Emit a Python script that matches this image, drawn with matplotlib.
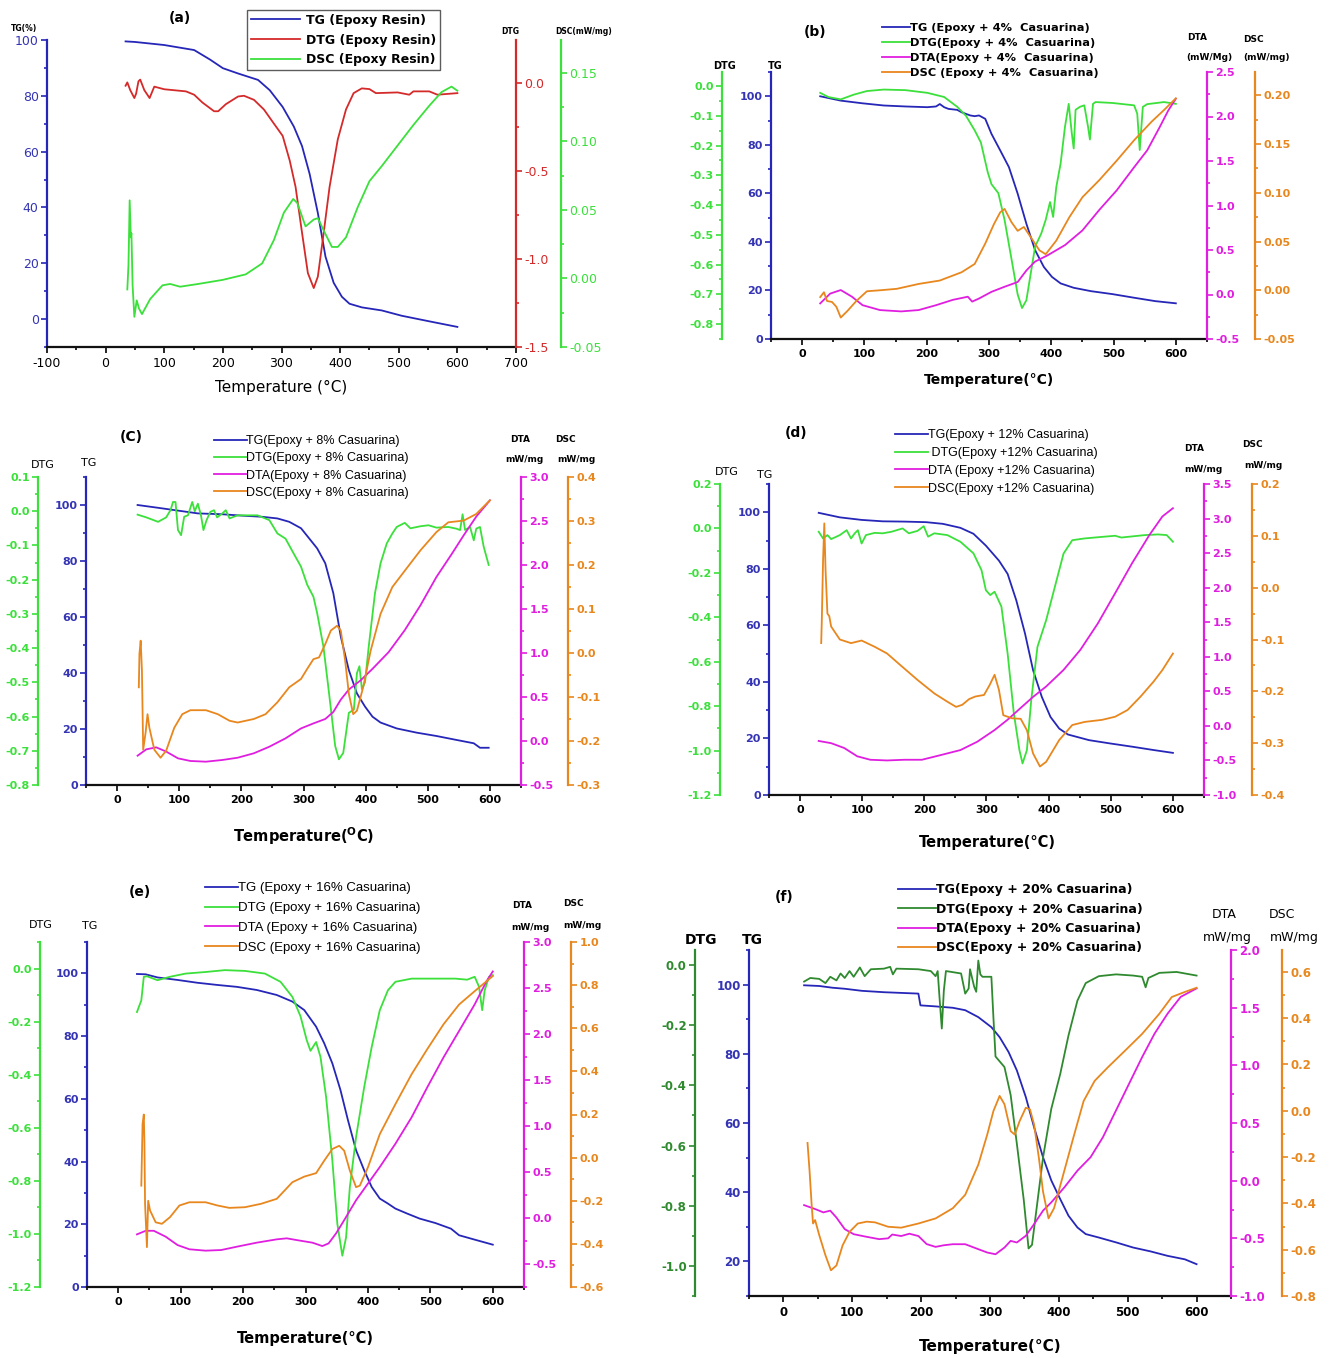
import matplotlib
matplotlib.use('Agg')
import matplotlib.pyplot as plt
from matplotlib.ticker import MultipleLocator, FuncFormatter

plt.rcParams['axes.unicode_minus'] = False
plt.rcParams['font.family'] = ['DejaVu Sans']

# ---------------- data ----------------
# (a) epoxy resin
a_tg_t = [34, 50, 100, 151, 178, 200, 226, 260, 280, 302, 321, 335, 348, 362, 375, 389, 403, 416, 437, 471, 505, 552, 600]
a_tg = [99.5, 99.3, 98.2, 96.4, 93, 89.9, 88, 85.7, 82, 76, 69, 62, 52, 38, 22.4, 13, 8, 5.5, 4.2, 3.1, 1.2, -0.8, -2.8]
a_dtg_t = [34, 37, 42, 49, 52, 56, 59, 66, 75, 83, 100, 137, 151, 165, 185, 192, 205, 226, 236, 253, 270, 287, 302, 314,
           324, 335, 345, 355, 362, 372, 382, 396, 410, 423, 437, 450, 461, 498, 518, 525, 552, 566, 600]
a_dtg = [-0.015, 0.004, -0.04, -0.085, -0.06, 0.01, 0.02, -0.04, -0.085, -0.02, -0.035, -0.047, -0.066, -0.11, -0.16,
         -0.16, -0.12, -0.076, -0.072, -0.095, -0.15, -0.23, -0.30, -0.44, -0.59, -0.85, -1.08, -1.165, -1.10, -0.85,
         -0.59, -0.32, -0.15, -0.057, -0.03, -0.034, -0.057, -0.053, -0.066, -0.047, -0.047, -0.066, -0.057]
a_dsc_t = [37, 39, 41, 43, 44, 46, 49, 53, 57, 62, 76, 97, 110, 127, 158, 200, 239, 267, 287, 304, 320, 327, 341, 355,
           362, 372, 386, 396, 410, 430, 450, 471, 498, 525, 552, 573, 590, 600]
a_dsc = [-0.008, 0.01, 0.057, 0.03, 0.033, -0.005, -0.028, -0.016, -0.022, -0.026, -0.015, -0.005, -0.004, -0.006,
         -0.004, -0.001, 0.003, 0.011, 0.028, 0.048, 0.058, 0.055, 0.038, 0.043, 0.044, 0.035, 0.023, 0.023, 0.030,
         0.052, 0.071, 0.082, 0.097, 0.112, 0.126, 0.136, 0.140, 0.137]

# (b) epoxy + 4% casuarina
b_tg_t = [29, 62, 97, 131, 166, 201, 215, 221, 228, 235, 249, 256, 270, 277, 284, 294, 304, 318, 332, 346, 360, 374, 388,
          401, 415, 436, 464, 498, 533, 567, 600]
b_tg = [100, 98.2, 97.1, 96.2, 95.8, 95.5, 95.8, 96.8, 95.5, 94.8, 94.4, 93.4, 92.1, 91.8, 92.1, 90.7, 84.5, 77.7, 70.8,
        59.9, 47.5, 36.6, 29.7, 25.6, 22.9, 21.1, 19.7, 18.5, 17, 15.6, 14.7]
b_dtg_t = [29, 42, 62, 83, 104, 131, 166, 201, 228, 249, 263, 277, 287, 298, 304, 315, 325, 336, 346, 353, 360, 367, 374,
           384, 391, 398, 403, 408, 415, 422, 428, 433, 436, 439, 446, 453, 459, 462, 467, 471, 498, 533, 538, 542, 547,
           554, 581, 600]
b_dtg = [-0.023, -0.037, -0.045, -0.029, -0.017, -0.012, -0.014, -0.023, -0.037, -0.07, -0.10, -0.149, -0.19, -0.29,
         -0.33, -0.36, -0.45, -0.58, -0.70, -0.746, -0.72, -0.63, -0.54, -0.495, -0.45, -0.39, -0.44, -0.34, -0.26,
         -0.137, -0.06, -0.16, -0.21, -0.08, -0.07, -0.065, -0.137, -0.18, -0.06, -0.054, -0.057, -0.065, -0.093,
         -0.215, -0.07, -0.061, -0.054, -0.06]
b_dta_t = [29, 45, 62, 80, 97, 125, 159, 187, 215, 242, 266, 273, 284, 304, 325, 346, 360, 374, 394, 422, 450, 477, 505,
           533, 554, 574, 588, 600]
b_dta = [-0.1, 0.01, 0.05, -0.025, -0.12, -0.175, -0.19, -0.175, -0.12, -0.06, -0.025, -0.08, -0.045, 0.03, 0.087, 0.14,
         0.27, 0.37, 0.44, 0.555, 0.72, 0.95, 1.17, 1.43, 1.62, 1.88, 2.07, 2.2]
b_dsc_t = [29, 35, 40, 48, 55, 62, 73, 87, 104, 125, 152, 187, 221, 256, 277, 294, 308, 318, 325, 336, 346, 356, 367, 381,
           391, 408, 429, 450, 477, 505, 533, 561, 581, 600]
b_dsc = [-0.007, -0.002, -0.011, -0.012, -0.017, -0.028, -0.021, -0.011, -0.001, 0.0, 0.0015, 0.0065, 0.010, 0.0185,
         0.027, 0.048, 0.068, 0.080, 0.0835, 0.070, 0.061, 0.065, 0.0545, 0.041, 0.037, 0.051, 0.075, 0.0955, 0.113,
         0.133, 0.154, 0.173, 0.185, 0.197]

# (c) epoxy + 8% casuarina
c_tg_t = [33, 66, 98, 130, 169, 201, 233, 258, 277, 296, 309, 322, 335, 348, 360, 373, 386, 399, 411, 424, 450, 482, 514,
          546, 574, 584, 598]
c_tg = [100, 99, 98, 97, 96.7, 96.2, 95.8, 95.2, 94, 91.7, 88.1, 84.5, 79.2, 68.5, 53, 41, 32.7, 28, 24.4, 22.3, 20.2,
        18.7, 17.5, 16.1, 14.9, 13.3, 13.3]
c_dtg_t = [33, 47, 66, 79, 86, 90, 94, 98, 103, 108, 114, 121, 125, 130, 135, 139, 144, 150, 156, 161, 169, 175, 181, 194,
           226, 245, 258, 271, 284, 296, 306, 316, 322, 332, 341, 351, 357, 364, 373, 381, 386, 390, 394, 399, 405, 415,
           424, 434, 443, 450, 463, 472, 488, 501, 514, 533, 546, 552, 556, 560, 568, 574, 578, 584, 590, 598]
c_dtg = [-0.01, -0.018, -0.031, -0.018, 0.003, 0.027, 0.027, -0.055, -0.07, -0.016, -0.012, 0.027, 0.0, 0.022, -0.012,
         -0.055, -0.026, -0.002, 0.003, -0.018, -0.007, 0.003, -0.021, -0.012, -0.012, -0.026, -0.065, -0.08, -0.123,
         -0.162, -0.215, -0.25, -0.298, -0.395, -0.53, -0.686, -0.725, -0.706, -0.589, -0.58, -0.473, -0.453, -0.52,
         -0.50, -0.395, -0.24, -0.152, -0.094, -0.065, -0.046, -0.034, -0.05, -0.044, -0.041, -0.048, -0.046, -0.051,
         -0.055, -0.009, -0.055, -0.046, -0.085, -0.051, -0.046, -0.104, -0.157]
c_dta_t = [33, 47, 63, 79, 98, 118, 143, 169, 194, 220, 245, 271, 296, 316, 335, 348, 360, 373, 392, 411, 437, 463, 488,
           514, 539, 558, 578, 600]
c_dta = [-0.167, -0.095, -0.072, -0.12, -0.197, -0.227, -0.235, -0.216, -0.19, -0.14, -0.065, 0.03, 0.143, 0.2, 0.25,
         0.33, 0.47, 0.585, 0.69, 0.82, 1.01, 1.26, 1.54, 1.865, 2.13, 2.34, 2.55, 2.735]
c_dsc_t = [35, 36, 38, 40, 42, 46, 49, 52, 60, 70, 79, 92, 105, 118, 143, 162, 181, 194, 220, 239, 258, 277, 296, 306,
           316, 325, 335, 344, 354, 360, 367, 373, 380, 386, 396, 408, 424, 443, 463, 488, 514, 533, 558, 578, 600]
c_dsc = [-0.078, -0.002, 0.028, -0.04, -0.22, -0.18, -0.139, -0.17, -0.22, -0.238, -0.222, -0.17, -0.139, -0.13, -0.13,
         -0.139, -0.154, -0.158, -0.15, -0.139, -0.112, -0.078, -0.059, -0.036, -0.014, -0.010, 0.020, 0.051, 0.062,
         0.051, -0.017, -0.093, -0.139, -0.131, -0.078, 0.005, 0.089, 0.15, 0.187, 0.233, 0.275, 0.297, 0.301, 0.316,
         0.347]

# (d) epoxy + 12% casuarina
d_tg_t = [30, 64, 99, 133, 168, 203, 230, 258, 279, 299, 320, 334, 348, 362, 375, 389, 403, 417, 431, 465, 500, 534, 569,
          600]
d_tg = [99.8, 98.2, 97.3, 96.8, 96.7, 96.5, 95.9, 94.5, 92.4, 88.2, 82.9, 78.2, 68.8, 57.1, 44.1, 34.7, 27.6, 23.5, 21.4,
        19.4, 18.2, 17.1, 15.9, 14.9]
d_dtg_t = [30, 37, 44, 50, 64, 75, 82, 88, 93, 99, 106, 120, 133, 147, 165, 175, 189, 199, 206, 216, 237, 258, 279, 292,
           299, 306, 313, 324, 334, 344, 353, 358, 365, 372, 382, 396, 410, 424, 438, 458, 486, 507, 517, 527, 555, 576,
           590, 600]
d_dtg = [-0.015, -0.045, -0.03, -0.048, -0.03, -0.008, -0.045, -0.022, -0.008, -0.068, -0.03, -0.02, -0.022, -0.015, 0.0,
         -0.022, -0.011, 0.01, -0.037, -0.022, -0.03, -0.06, -0.112, -0.188, -0.278, -0.30, -0.285, -0.352, -0.563,
         -0.833, -0.998, -1.058, -0.998, -0.773, -0.533, -0.413, -0.263, -0.113, -0.053, -0.045, -0.038, -0.033, -0.041,
         -0.038, -0.03, -0.027, -0.03, -0.06]
d_dta_t = [30, 50, 71, 92, 113, 140, 168, 196, 223, 258, 285, 313, 334, 355, 375, 396, 424, 451, 479, 507, 534, 562, 583,
           600]
d_dta = [-0.218, -0.25, -0.32, -0.44, -0.49, -0.50, -0.49, -0.49, -0.43, -0.35, -0.23, -0.06, 0.09, 0.26, 0.42, 0.57,
         0.81, 1.10, 1.48, 1.92, 2.35, 2.76, 3.03, 3.15]
d_dsc_t = [34, 35, 37, 39, 41, 44, 47, 50, 64, 82, 99, 120, 140, 161, 189, 216, 237, 251, 261, 272, 282, 296, 305, 313,
           320, 327, 341, 355, 365, 375, 386, 396, 417, 438, 458, 486, 507, 527, 548, 569, 583, 600]
d_dsc = [-0.107, -0.062, 0.053, 0.124, 0.034, -0.05, -0.055, -0.075, -0.1, -0.107, -0.102, -0.114, -0.127, -0.149,
         -0.178, -0.204, -0.22, -0.23, -0.226, -0.215, -0.21, -0.207, -0.188, -0.168, -0.197, -0.246, -0.252, -0.253,
         -0.275, -0.32, -0.345, -0.336, -0.294, -0.265, -0.259, -0.255, -0.249, -0.236, -0.21, -0.181, -0.159, -0.127]

# (e) epoxy + 16% casuarina
e_tg_t = [30, 44, 63, 95, 127, 159, 190, 222, 254, 279, 298, 317, 330, 343, 356, 368, 381, 394, 406, 419, 432, 444, 463,
          483, 508, 533, 546, 571, 600]
e_tg = [99.8, 99.7, 98.7, 97.9, 97, 96.3, 95.7, 94.7, 93.1, 91, 88.3, 83, 77.7, 71.3, 62.8, 53.2, 43.6, 37.2, 31.9, 28.2,
        26.6, 25, 23.4, 21.8, 20.4, 18.6, 16.5, 15.1, 13.5]
e_dtg_t = [30, 37, 41, 46, 63, 83, 108, 140, 171, 203, 235, 260, 279, 292, 302, 308, 317, 324, 333, 343, 351, 359, 365,
           371, 381, 394, 406, 419, 432, 444, 470, 508, 540, 559, 571, 578, 583, 587, 594, 600]
e_dtg = [-0.164, -0.12, -0.031, -0.029, -0.044, -0.031, -0.019, -0.013, -0.006, -0.009, -0.019, -0.05, -0.107, -0.18,
         -0.27, -0.31, -0.277, -0.333, -0.484, -0.723, -0.962, -1.082, -1.013, -0.824, -0.635, -0.447, -0.296, -0.157,
         -0.082, -0.05, -0.038, -0.038, -0.038, -0.042, -0.031, -0.069, -0.157, -0.082, -0.031, -0.025]
e_dta_t = [30, 44, 57, 76, 95, 114, 140, 165, 190, 222, 254, 270, 286, 311, 327, 337, 349, 362, 381, 400, 419, 444, 470,
           495, 521, 546, 571, 590, 600]
e_dta = [-0.178, -0.139, -0.139, -0.203, -0.294, -0.34, -0.355, -0.348, -0.312, -0.268, -0.232, -0.221, -0.24, -0.268,
         -0.305, -0.276, -0.167, -0.023, 0.193, 0.374, 0.554, 0.807, 1.095, 1.42, 1.745, 2.033, 2.322, 2.574, 2.68]
e_dsc_t = [37, 39, 41, 42, 43, 46, 48, 51, 60, 70, 83, 98, 114, 140, 159, 178, 203, 229, 254, 279, 298, 317, 330, 343,
           354, 362, 371, 381, 387, 400, 419, 444, 470, 495, 521, 546, 571, 600]
e_dsc = [-0.13, 0.156, 0.2, 0.063, -0.214, -0.415, -0.2, -0.245, -0.3, -0.307, -0.276, -0.222, -0.207, -0.207, -0.222,
         -0.233, -0.23, -0.214, -0.191, -0.114, -0.088, -0.072, -0.014, 0.04, 0.055, 0.032, -0.06, -0.137, -0.13,
         -0.045, 0.109, 0.248, 0.387, 0.503, 0.618, 0.71, 0.772, 0.842]

# (f) epoxy + 20% casuarina
f_tg_t = [30, 52, 71, 89, 114, 146, 171, 196, 199, 221, 246, 264, 283, 302, 314, 327, 339, 352, 364, 377, 389, 402, 414,
          427, 439, 458, 483, 508, 533, 558, 583, 600]
f_tg = [99.8, 99.6, 99.1, 98.8, 98.2, 97.8, 97.6, 97.4, 94, 93.7, 93.3, 92.6, 90.6, 87.7, 84.8, 80.5, 75.2, 67.5, 58.8,
        50.1, 43.4, 38, 33.2, 29.8, 27.9, 26.9, 25.5, 24, 22.9, 21.6, 20.6, 19.2]
f_dtg_t = [30, 39, 52, 61, 68, 77, 83, 89, 96, 102, 111, 118, 127, 146, 155, 159, 164, 196, 214, 221, 224, 227, 230, 233,
           236, 258, 264, 269, 271, 277, 280, 283, 286, 289, 302, 305, 308, 321, 330, 339, 349, 356, 361, 368, 377, 389,
           402, 414, 427, 439, 458, 483, 508, 521, 526, 530, 546, 571, 600]
f_dtg = [-0.055, -0.043, -0.046, -0.06, -0.039, -0.051, -0.028, -0.043, -0.02, -0.039, -0.008, -0.037, -0.014, -0.012,
         -0.006, -0.031, -0.012, -0.014, -0.02, -0.037, -0.02, -0.118, -0.211, -0.084, -0.02, -0.028, -0.095, -0.078,
         -0.014, -0.072, -0.089, 0.015, -0.031, -0.039, -0.039, -0.176, -0.304, -0.339, -0.432, -0.594, -0.78, -0.942,
         -0.93, -0.803, -0.64, -0.478, -0.362, -0.234, -0.118, -0.06, -0.037, -0.031, -0.035, -0.039, -0.074, -0.043,
         -0.026, -0.023, -0.035]
f_dta_t = [30, 46, 58, 68, 77, 89, 102, 121, 139, 152, 158, 171, 183, 196, 208, 221, 233, 246, 264, 283, 296, 308, 321,
           330, 339, 352, 364, 377, 389, 408, 427, 446, 464, 483, 502, 521, 539, 558, 577, 600]
f_dta = [-0.212, -0.246, -0.275, -0.26, -0.32, -0.42, -0.464, -0.487, -0.507, -0.50, -0.467, -0.48, -0.46, -0.48, -0.55,
         -0.574, -0.56, -0.551, -0.551, -0.594, -0.623, -0.638, -0.58, -0.522, -0.536, -0.478, -0.377, -0.26, -0.188,
         -0.058, 0.087, 0.203, 0.377, 0.609, 0.841, 1.072, 1.275, 1.449, 1.594, 1.667]
f_dsc_t = [35, 38, 41, 43, 46, 52, 61, 69, 77, 86, 96, 108, 121, 133, 152, 171, 196, 221, 246, 264, 283, 296, 305, 314,
           321, 330, 336, 343, 352, 358, 364, 371, 377, 385, 393, 405, 421, 436, 452, 471, 496, 521, 546, 564, 583, 600]
f_dsc = [-0.139, -0.262, -0.407, -0.487, -0.472, -0.537, -0.624, -0.689, -0.668, -0.581, -0.523, -0.487, -0.479, -0.482,
         -0.501, -0.505, -0.487, -0.465, -0.421, -0.363, -0.233, -0.103, -0.001, 0.064, 0.028, -0.088, -0.103, -0.045,
         0.013, 0.006, -0.059, -0.204, -0.349, -0.465, -0.421, -0.291, -0.117, 0.042, 0.129, 0.187, 0.259, 0.332,
         0.419, 0.491, 0.513, 0.531]

# ---------------- styling ----------------
BLUE = '#2626b8'
RED = '#d42a2a'
LIME = '#3be03b'
DKGREEN = '#2f8a2f'
MAGENTA = '#e01ee0'
ORANGE = '#e8871e'

W, H = 1334, 1358
fig = plt.figure(figsize=(W / 100, H / 100), dpi=100)


def box(l, r, t, b):
    return [l / W, 1 - b / H, (r - l) / W, (b - t) / H]


def fmt(d):
    def f(v, pos):
        s = f'{v:.{d}f}'
        if float(s) == 0:
            s = s.lstrip('-')
        return s
    return FuncFormatter(f)


def style_y(ax, side, color, lim, major, minor, dec, lsize, lcolor=None):
    ax.set_ylim(*lim)
    ax.yaxis.set_major_locator(MultipleLocator(major))
    ax.yaxis.set_minor_locator(MultipleLocator(minor))
    ax.yaxis.set_major_formatter(fmt(dec))
    ax.spines[side].set_color(color)
    ax.spines[side].set_linewidth(1.6)
    ax.tick_params(axis='y', which='both', direction='out', color=color,
                   labelcolor=lcolor or color, width=1.2, labelsize=lsize, pad=2)
    ax.tick_params(axis='y', which='major', length=4)
    ax.tick_params(axis='y', which='minor', length=2.5)


def extra_axis(host, side, offset_px, width_px):
    t = host.twinx()
    for s in t.spines.values():
        s.set_visible(False)
    sp = t.spines[side]
    sp.set_visible(True)
    if side == 'right':
        sp.set_position(('axes', 1 + offset_px / width_px))
    else:
        sp.set_position(('axes', -offset_px / width_px))
    t.yaxis.set_ticks_position(side)
    t.yaxis.set_label_position(side)
    return t


def draw_panel(p):
    l, r, t, b = p['px']
    host = fig.add_axes(box(l, r, t, b))
    host.patch.set_visible(False)
    host.spines['top'].set_visible(False)
    host.spines['right'].set_visible(False)
    host.spines['bottom'].set_linewidth(1.6)
    host.spines['bottom'].set_color('#111111')
    host.set_xlim(*p['xlim'])
    host.xaxis.set_major_locator(MultipleLocator(100))
    host.xaxis.set_minor_locator(MultipleLocator(50))
    host.tick_params(axis='x', which='both', direction='out', width=1.2, labelsize=p['lsize'], pad=3)
    host.tick_params(axis='x', which='major', length=4)
    host.tick_params(axis='x', which='minor', length=2.5)
    style_y(host, 'left', BLUE, p['tg_lim'], 20, 10, 0, p['lsize'], lcolor='#3434b4')
    handles = [host.plot(p['tg'][0], p['tg'][1], color=BLUE, lw=1.3)[0]]
    all_axes = [host]
    for side, off, color, lim, major, minor, dec, (xs, ys) in p['extra']:
        ax = extra_axis(host, side, off, r - l)
        style_y(ax, side, color, lim, major, minor, dec, p['lsize'])
        handles.append(ax.plot(xs, ys, color=color, lw=1.3)[0])
        all_axes.append(ax)
    for ax in all_axes:
        plt.setp(ax.get_yticklabels(), fontweight=p['tweight'])
    plt.setp(host.get_xticklabels(), fontweight=p['tweight'])

    lg = p['legend']
    leg = fig.legend(handles, lg['labels'], loc='upper left',
                     bbox_to_anchor=(lg['x'] / W, 1 - lg['y'] / H),
                     frameon=lg.get('frame', False), fancybox=False, edgecolor='#333333',
                     handlelength=lg['hl'], handletextpad=lg.get('pad', 0.0),
                     labelspacing=lg['ls'], borderpad=lg.get('bp', 0.0),
                     borderaxespad=0, prop=lg['prop'])
    leg.get_frame().set_linewidth(1.0)
    for h in leg.legend_handles:
        h.set_linewidth(1.3)

    tx, ty, ttxt = p['title']
    fig.text(tx / W, 1 - ty / H, ttxt, ha='center', va='center', fontsize=10, fontweight='bold')
    xx, xy, xtxt, xprop = p['xlabel']
    fig.text(xx / W, 1 - xy / H, xtxt, ha='center', va='center', **xprop)
    for txt, x, y, fs, fw in p['labels']:
        fig.text(x / W, 1 - y / H, txt, ha='center', va='center', fontsize=fs, fontweight=fw)


panels = [
    dict(px=(47, 516, 40, 347), xlim=(-100, 700), tg_lim=(-10, 100), tg=(a_tg_t, a_tg), lsize=9, tweight='normal',
         extra=[('right', 0, RED, (-1.5, 0.245), 0.5, 0.25, 1, (a_dtg_t, a_dtg)),
                ('right', 45, LIME, (-0.05, 0.174), 0.05, 0.025, 2, (a_dsc_t, a_dsc))],
         legend=dict(labels=['TG (Epoxy Resin)', 'DTG (Epoxy Resin)', 'DSC (Epoxy Resin)'], x=247, y=10, hl=3.9,
                     pad=0.5, ls=0.55, frame=True, bp=0.3,
                     prop=dict(family='DejaVu Sans', weight='bold', size=9)),
         title=(180, 18, '(a)'),
         xlabel=(281, 387, 'Temperature (°C)', dict(fontsize=11)),
         labels=[('TG(%)', 24, 28, 5.5, 'bold'), ('DTG', 510, 31, 5.5, 'bold'),
                 ('DSC(mW/mg)', 584, 32, 5.5, 'bold')]),
    dict(px=(771, 1207, 72, 339), xlim=(-50, 650), tg_lim=(0, 110), tg=(b_tg_t, b_tg), lsize=8, tweight='bold',
         extra=[('left', 49, LIME, (-0.85, 0.047), 0.1, 0.05, 1, (b_dtg_t, b_dtg)),
                ('right', 0, MAGENTA, (-0.5, 2.5), 0.5, 0.25, 1, (b_dta_t, b_dta)),
                ('right', 48, ORANGE, (-0.05, 0.224), 0.05, 0.025, 2, (b_dsc_t, b_dsc))],
         legend=dict(labels=['TG (Epoxy + 4%  Casuarina)', 'DTG(Epoxy + 4%  Casuarina)',
                             'DTA(Epoxy + 4%  Casuarina)', 'DSC (Epoxy + 4%  Casuarina)'],
                     x=882, y=23, hl=2.5, ls=0.45, prop=dict(family='DejaVu Sans', weight='bold', size=8.2)),
         title=(815, 32, '(b)'),
         xlabel=(989, 380, 'Temperature(°C)', dict(fontsize=10, fontweight='bold')),
         labels=[('DTG', 725, 66, 7, 'bold'), ('TG', 775, 66, 7, 'bold'), ('DTA', 1197, 37, 6.5, 'bold'),
                 ('(mW/Mg)', 1209, 57, 6.5, 'bold'), ('DSC', 1253, 40, 6.5, 'bold'),
                 ('(mW/mg)', 1266, 57, 6.5, 'bold')]),
    dict(px=(86, 521, 477, 785), xlim=(-50, 650), tg_lim=(0, 110), tg=(c_tg_t, c_tg), lsize=8, tweight='bold',
         extra=[('left', 48, LIME, (-0.8, 0.1), 0.1, 0.05, 1, (c_dtg_t, c_dtg)),
                ('right', 0, MAGENTA, (-0.5, 3.0), 0.5, 0.25, 1, (c_dta_t, c_dta)),
                ('right', 47, ORANGE, (-0.3, 0.4), 0.1, 0.05, 1, (c_dsc_t, c_dsc))],
         legend=dict(labels=['TG(Epoxy + 8% Casuarina)', 'DTG(Epoxy + 8% Casuarina)',
                             'DTA(Epoxy + 8% Casuarina)', 'DSC(Epoxy + 8% Casuarina)'],
                     x=214, y=435, hl=2.6, ls=0.42, prop=dict(family='Liberation Sans', size=9)),
         title=(131, 437, '(C)'),
         xlabel=(304, 836, r'Temperature($^{\mathbf{O}}$C)', dict(fontsize=10.5, fontweight='bold')),
         labels=[('DTG', 43, 465, 8, 'normal'), ('TG', 89, 463, 8, 'normal'), ('DTA', 520, 439, 6.5, 'bold'),
                 ('mW/mg', 524, 459, 6.5, 'bold'), ('DSC', 565, 439, 6.5, 'bold'),
                 ('mW/mg', 576, 459, 6.5, 'bold')]),
    dict(px=(769, 1204, 484, 795), xlim=(-50, 650), tg_lim=(0, 110), tg=(d_tg_t, d_tg), lsize=8, tweight='bold',
         extra=[('left', 49, LIME, (-1.2, 0.2), 0.2, 0.1, 1, (d_dtg_t, d_dtg)),
                ('right', 0, MAGENTA, (-1.0, 3.5), 0.5, 0.25, 1, (d_dta_t, d_dta)),
                ('right', 48, ORANGE, (-0.4, 0.2), 0.1, 0.05, 1, (d_dsc_t, d_dsc))],
         legend=dict(labels=['TG(Epoxy + 12% Casuarina)', ' DTG(Epoxy +12% Casuarina)',
                             'DTA (Epoxy +12% Casuarina)', 'DSC(Epoxy +12% Casuarina)'],
                     x=895, y=429, hl=2.6, ls=0.47, prop=dict(family='Liberation Sans', size=9)),
         title=(796, 433, '(d)'),
         xlabel=(987, 842, 'Temperature(°C)', dict(fontsize=10.5, fontweight='bold')),
         labels=[('DTG', 727, 472, 8, 'normal'), ('TG', 765, 475, 8, 'normal'), ('DTA', 1194, 449, 6.5, 'bold'),
                 ('mW/mg', 1203, 469, 6.5, 'bold'), ('DSC', 1252, 445, 6.5, 'bold'),
                 ('mW/mg', 1263, 466, 6.5, 'bold')]),
    dict(px=(87, 524, 942, 1287), xlim=(-50, 650), tg_lim=(0, 110), tg=(e_tg_t, e_tg), lsize=8, tweight='bold',
         extra=[('left', 47, LIME, (-1.2, 0.1), 0.2, 0.1, 1, (e_dtg_t, e_dtg)),
                ('right', 0, MAGENTA, (-0.75, 3.0), 0.5, 0.25, 1, (e_dta_t, e_dta)),
                ('right', 47, ORANGE, (-0.6, 1.0), 0.2, 0.1, 1, (e_dsc_t, e_dsc))],
         legend=dict(labels=['TG (Epoxy + 16% Casuarina)', 'DTG (Epoxy + 16% Casuarina)',
                             'DTA (Epoxy + 16% Casuarina)', 'DSC (Epoxy + 16% Casuarina)'],
                     x=205, y=882, hl=2.5, ls=0.58, prop=dict(family='Liberation Sans', size=9.5)),
         title=(140, 892, '(e)'),
         xlabel=(305, 1339, 'Temperature(°C)', dict(fontsize=10.5, fontweight='bold')),
         labels=[('DTG', 41, 925, 8, 'normal'), ('TG', 90, 926, 8, 'normal'), ('DTA', 522, 906, 6.5, 'bold'),
                 ('mW/mg', 530, 927, 6.5, 'bold'), ('DSC', 573, 903, 6.5, 'bold'),
                 ('mW/mg', 582, 926, 6.5, 'bold')]),
    dict(px=(749, 1231, 950, 1296), xlim=(-50, 650), tg_lim=(10, 110), tg=(f_tg_t, f_tg), lsize=8.5, tweight='bold',
         extra=[('left', 54, DKGREEN, (-1.1, 0.05), 0.2, 0.1, 1, (f_dtg_t, f_dtg)),
                ('right', 0, MAGENTA, (-1.0, 2.0), 0.5, 0.25, 1, (f_dta_t, f_dta)),
                ('right', 51, ORANGE, (-0.8, 0.694), 0.2, 0.1, 1, (f_dsc_t, f_dsc))],
         legend=dict(labels=['TG(Epoxy + 20% Casuarina)', 'DTG(Epoxy + 20% Casuarina)',
                             'DTA(Epoxy + 20% Casuarina)', 'DSC(Epoxy + 20% Casuarina)'],
                     x=898, y=883, hl=3.0, ls=0.52, prop=dict(family='DejaVu Sans', weight='bold', size=9)),
         title=(784, 897, '(f)'),
         xlabel=(990, 1347, 'Temperature(°C)', dict(fontsize=11, fontweight='bold')),
         labels=[('DTG', 701, 940, 10, 'bold'), ('TG', 752, 940, 10, 'bold'), ('DTA', 1224, 915, 9, 'normal'),
                 ('mW/mg', 1227, 938, 9, 'normal'), ('DSC', 1282, 915, 9, 'normal'),
                 ('mW/mg', 1294, 938, 9, 'normal')]),
]

for p in panels:
    draw_panel(p)

fig.savefig('out.png', dpi=100, facecolor='white')
